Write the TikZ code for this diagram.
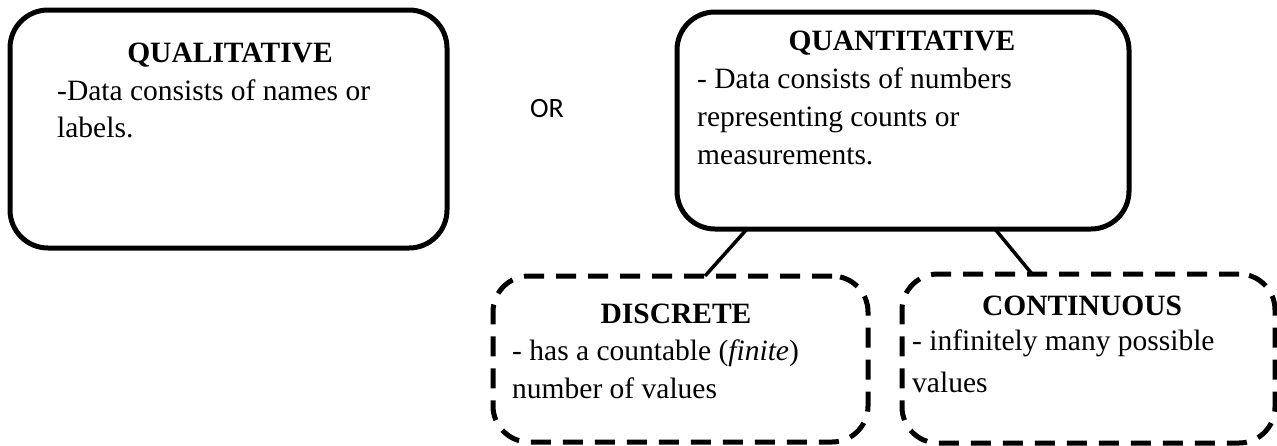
\documentclass[tikz,border=0pt]{standalone}
\usepackage{fontspec}
\setmainfont{Liberation Serif}
\newfontfamily\orfont{Carlito}
\begin{document}
\begin{tikzpicture}[x=1pt,y=-1pt,
  solidbox/.style={draw=black, line width=5pt, rounded corners=38pt, inner sep=0pt, outer sep=0pt},
  dashbox/.style={draw=black, line width=5pt, rounded corners=36pt, dash pattern=on 20pt off 12pt, inner sep=0pt, outer sep=0pt},
  head/.style={font=\fontsize{29.5}{35}\selectfont\bfseries, anchor=base, inner sep=0pt},
  body/.style={font=\fontsize{29.5}{35}\selectfont, anchor=base west, inner sep=0pt},
  link/.style={line width=3.5pt}]
\useasboundingbox (0,0) rectangle (1277,445);
% boxes
\node[solidbox, minimum width=437pt, minimum height=238pt] (qual) at (228.5,129) {};
\node[solidbox, minimum width=452pt, minimum height=217pt] (quant) at (903,120.5) {};
\node[dashbox, minimum width=375pt, minimum height=166pt] (disc) at (680.5,359) {};
\node[dashbox, minimum width=373pt, minimum height=169pt] (cont) at (1088.5,358.5) {};
% texts
\node[head] (qualh) at (230,62) {QUALITATIVE};
\node[body] (qual1) at (57,100) {-Data consists of names or};
\node[body] (qual2) at (57,137) {labels.};
\node[anchor=base west, inner sep=0pt, font=\orfont\fontsize{28}{32}\selectfont] (or) at (530,117) {OR};
\node[head] (quanth) at (902,50) {QUANTITATIVE};
\node[body] (quant1) at (697,88) {- Data consists of numbers};
\node[body] (quant2) at (697,126) {representing counts or};
\node[body] (quant3) at (697,164) {measurements.};
\node[head] (disch) at (676,323) {DISCRETE};
\node[body] (disc1) at (512,360) {- has a countable (\textit{finite})};
\node[body] (disc2) at (512,398) {number of values};
\node[head] (conth) at (1082,315) {CONTINUOUS};
\node[body] (cont1) at (912,350) {- infinitely many possible};
\node[body] (cont2) at (912,392) {values};
% connectors
\draw[link] ([xshift=-156pt]quant.south) -- ([xshift=24.5pt]disc.north);
\draw[link] ([xshift=92pt]quant.south) -- ([xshift=-56.5pt]cont.north);
\end{tikzpicture}
\end{document}
